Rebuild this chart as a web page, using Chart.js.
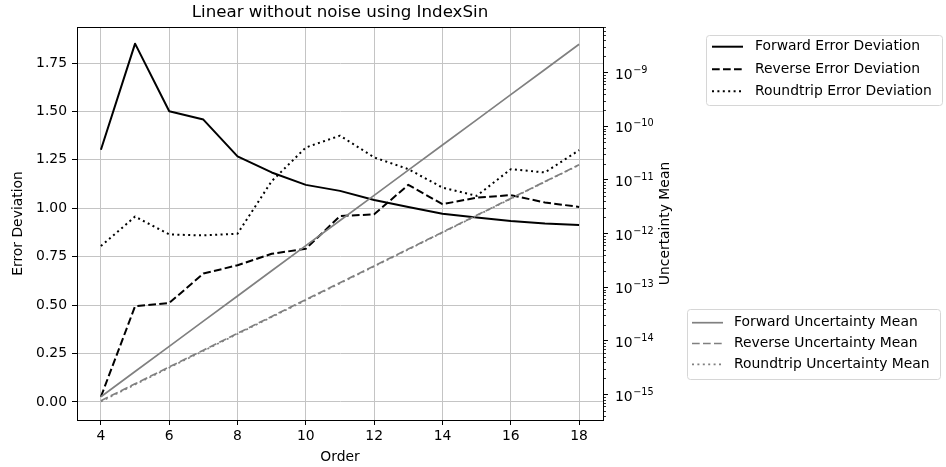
<!DOCTYPE html>
<html>
<head>
<meta charset="utf-8">
<script src="https://cdn.jsdelivr.net/npm/chart.js@4.4.1/dist/chart.umd.min.js"></script>
<style>
  html, body { margin: 0; padding: 0; background: #fff; }
</style>
</head>
<body>
<canvas id="chart" width="946" height="467"></canvas>
<script>
// x values
const orders = [4, 5, 6, 7, 8, 9, 10, 11, 12, 13, 14, 15, 16, 17, 18];

// left axis (Error Deviation)
const forwardError   = [1.302, 1.850, 1.501, 1.458, 1.268, 1.185, 1.121, 1.090, 1.043, 1.007, 0.972, 0.952, 0.934, 0.922, 0.914];
const reverseError   = [0.027, 0.494, 0.511, 0.663, 0.706, 0.765, 0.791, 0.960, 0.969, 1.121, 1.021, 1.055, 1.068, 1.030, 1.007];
const roundtripError = [0.805, 0.957, 0.865, 0.860, 0.869, 1.140, 1.314, 1.375, 1.263, 1.202, 1.107, 1.064, 1.202, 1.185, 1.300];

// right axis (Uncertainty Mean, log)
const forwardUnc   = [9.1e-16, 2.69e-15, 7.9e-15, 2.33e-14, 6.86e-14, 2.02e-13, 5.94e-13, 1.75e-12, 5.15e-12, 1.52e-11, 4.47e-11, 1.31e-10, 3.87e-10, 1.14e-9, 3.36e-9];
const reverseUnc   = [7.67e-16, 1.58e-15, 3.26e-15, 6.71e-15, 1.38e-14, 2.85e-14, 5.87e-14, 1.21e-13, 2.49e-13, 5.14e-13, 1.06e-12, 2.18e-12, 4.50e-12, 9.27e-12, 1.91e-11];
const roundtripUnc = [7.4e-16, 1.53e-15, 3.16e-15, 6.50e-15, 1.34e-14, 2.77e-14, 5.72e-14, 1.18e-13, 2.44e-13, 5.04e-13, 1.04e-12, 2.15e-12, 4.44e-12, 9.17e-12, 1.89e-11];

// ticks
const xTicks = [4, 6, 8, 10, 12, 14, 16, 18];
const leftTicks = [0, 0.25, 0.5, 0.75, 1.0, 1.25, 1.5, 1.75];
const rightExponents = [-15, -14, -13, -12, -11, -10, -9];

const FONT = 'DejaVu Sans';

function pts(vals) { return orders.map((x, i) => ({x: x, y: vals[i]})); }

const rightMin = Math.pow(10, -15.475);
const rightMax = Math.pow(10, -8.152);

function isMajor(v) {
    const e = Math.log10(v);
    return Math.abs(e - Math.round(e)) < 1e-6;
}

// matplotlib-like extras: top spine, minor log ticks, log labels, right title, side legends
const extras = {
    id: 'extras',
    afterDraw(chart) {
        const ctx = chart.ctx;
        const a = chart.chartArea;
        ctx.save();

        // spines
        ctx.strokeStyle = '#000';
        ctx.lineWidth = 1;
        ctx.strokeRect(Math.round(a.left) + 0.5, Math.round(a.top) + 0.5, Math.round(a.right - a.left), Math.round(a.bottom - a.top));

        // minor ticks on log axis
        const y1 = chart.scales.y1;
        y1.ticks.forEach(t => {
            if (isMajor(t.value)) return;
            const py = Math.round(y1.getPixelForValue(t.value)) + 0.5;
            ctx.beginPath();
            ctx.moveTo(a.right, py);
            ctx.lineTo(a.right + 3, py);
            ctx.lineWidth = 0.8;
            ctx.stroke();
        });

        // log labels, 10 with raised exponent
        ctx.fillStyle = '#000';
        ctx.textAlign = 'left';
        ctx.textBaseline = 'middle';
        rightExponents.forEach(e => {
            const py = y1.getPixelForValue(Math.pow(10, e));
            const x0 = a.right + 12;
            ctx.font = '13.9px "' + FONT + '"';
            ctx.fillText('10', x0, py + 2.5);
            const w = ctx.measureText('10').width;
            ctx.font = '9.7px "' + FONT + '"';
            ctx.fillText('\u2212' + Math.abs(e), x0 + w + 0.5, py - 2.5);
        });

        // right axis title
        ctx.font = '13.9px "' + FONT + '"';
        ctx.textAlign = 'center';
        ctx.textBaseline = 'middle';
        ctx.translate(665, (a.top + a.bottom) / 2);
        ctx.rotate(-Math.PI / 2);
        ctx.fillText('Uncertainty Mean', 0, 0);
        ctx.setTransform(1, 0, 0, 1, 0, 0);

        // legends
        const ds = chart.data.datasets;
        drawLegend(ctx, ds.slice(0, 3), {x: 706.5, y: 35.5, w: 236, h: 70, x0: 712, x1: 743, tx: 755, rows: [46.7, 69.3, 91.3]});
        drawLegend(ctx, ds.slice(3, 6), {x: 687.5, y: 309.5, w: 253, h: 70, x0: 692, x1: 723, tx: 734, rows: [322.7, 343.5, 364.3]});
        ctx.restore();
    }
};

function drawLegend(ctx, items, b) {
    ctx.save();
    ctx.beginPath();
    ctx.roundRect(b.x, b.y, b.w, b.h, 3);
    ctx.fillStyle = 'rgba(255,255,255,0.8)';
    ctx.fill();
    ctx.strokeStyle = '#d6d6d6';
    ctx.lineWidth = 1;
    ctx.stroke();
    items.forEach((d, i) => {
        const y = b.rows[i];
        ctx.beginPath();
        ctx.setLineDash(d.borderDash || []);
        ctx.strokeStyle = d.borderColor;
        ctx.lineWidth = d.borderWidth;
        ctx.moveTo(b.x0, y);
        ctx.lineTo(b.x1, y);
        ctx.stroke();
        ctx.setLineDash([]);
        ctx.fillStyle = '#000';
        ctx.font = '13.9px "' + FONT + '"';
        ctx.textAlign = 'left';
        ctx.textBaseline = 'middle';
        ctx.fillText(d.label, b.tx, y);
    });
    ctx.restore();
}

function lineSet(label, vals, color, width, dash, axis, order) {
    return {
        label: label,
        data: pts(vals),
        borderColor: color,
        borderWidth: width,
        borderDash: dash,
        borderJoinStyle: 'round',
        pointRadius: 0,
        fill: false,
        tension: 0,
        yAxisID: axis,
        order: order
    };
}

const ctx = document.getElementById('chart').getContext('2d');
const chart = new Chart(ctx, {
    type: 'line',
    data: {
        datasets: [
            lineSet('Forward Error Deviation', forwardError, '#000', 2, [], 'y', 1),
            lineSet('Reverse Error Deviation', reverseError, '#000', 2, [7.7, 3.3], 'y', 1),
            lineSet('Roundtrip Error Deviation', roundtripError, '#000', 2, [2, 3.4], 'y', 1),
            lineSet('Forward Uncertainty Mean', forwardUnc, '#808080', 1.7, [], 'y1', 0),
            lineSet('Reverse Uncertainty Mean', reverseUnc, '#808080', 1.7, [7.7, 3.3], 'y1', 0),
            lineSet('Roundtrip Uncertainty Mean', roundtripUnc, '#808080', 1.7, [2, 3.4], 'y1', 0)
        ]
    },
    options: {
        responsive: false,
        animation: false,
        layout: { padding: { left: 0, right: 273, top: 0, bottom: 0 } },
        plugins: {
            legend: { display: false },
            tooltip: { enabled: false },
            title: {
                display: true,
                fullSize: false,
                text: 'Linear without noise using IndexSin',
                color: '#000',
                font: { family: FONT, size: 16.67, weight: 'normal' },
                padding: { top: 3, bottom: 4 }
            }
        },
        scales: {
            x: {
                type: 'linear',
                min: 3.3,
                max: 18.7,
                bounds: 'data',
                afterBuildTicks: s => { s.ticks = xTicks.map(v => ({value: v})); },
                afterFit: s => { s.height = 47; },
                grid: { color: '#c4c4c4', lineWidth: 1, tickLength: 5, tickColor: '#000' },
                border: { color: '#000', width: 1 },
                ticks: { color: '#000', font: { family: FONT, size: 13.9 }, padding: 3, maxRotation: 0, autoSkip: false },
                title: { display: true, text: 'Order', color: '#000', font: { family: FONT, size: 13.9 }, padding: { top: 0, bottom: 1 } }
            },
            y: {
                type: 'linear',
                position: 'left',
                min: -0.093,
                max: 1.936,
                bounds: 'data',
                afterBuildTicks: s => { s.ticks = leftTicks.map(v => ({value: v})); },
                afterFit: s => { s.width = 77; },
                grid: { color: '#c4c4c4', lineWidth: 1, tickLength: 5, tickColor: '#000' },
                border: { color: '#000', width: 1 },
                ticks: { color: '#000', font: { family: FONT, size: 13.9 }, padding: 5, callback: v => v.toFixed(2) },
                title: { display: true, text: 'Error Deviation', color: '#000', font: { family: FONT, size: 13.9 }, padding: { top: 10, bottom: 0 } }
            },
            y1: {
                type: 'logarithmic',
                position: 'right',
                min: rightMin,
                max: rightMax,
                bounds: 'data',
                afterBuildTicks: s => {
                    const t = [];
                    for (let e = -16; e <= -9; e++) {
                        for (let m = 1; m <= 9; m++) {
                            const v = m * Math.pow(10, e);
                            if (v >= rightMin && v <= rightMax) t.push({value: v});
                        }
                    }
                    s.ticks = t;
                },
                afterFit: s => { s.width = 70; },
                grid: {
                    display: true,
                    drawOnChartArea: false,
                    tickLength: 5,
                    tickColor: c => (c.tick && isMajor(c.tick.value)) ? '#000' : 'rgba(0,0,0,0)'
                },
                border: { color: '#000', width: 1 },
                ticks: { display: false }
            }
        }
    },
    plugins: [extras]
});
</script>
</body>
</html>
